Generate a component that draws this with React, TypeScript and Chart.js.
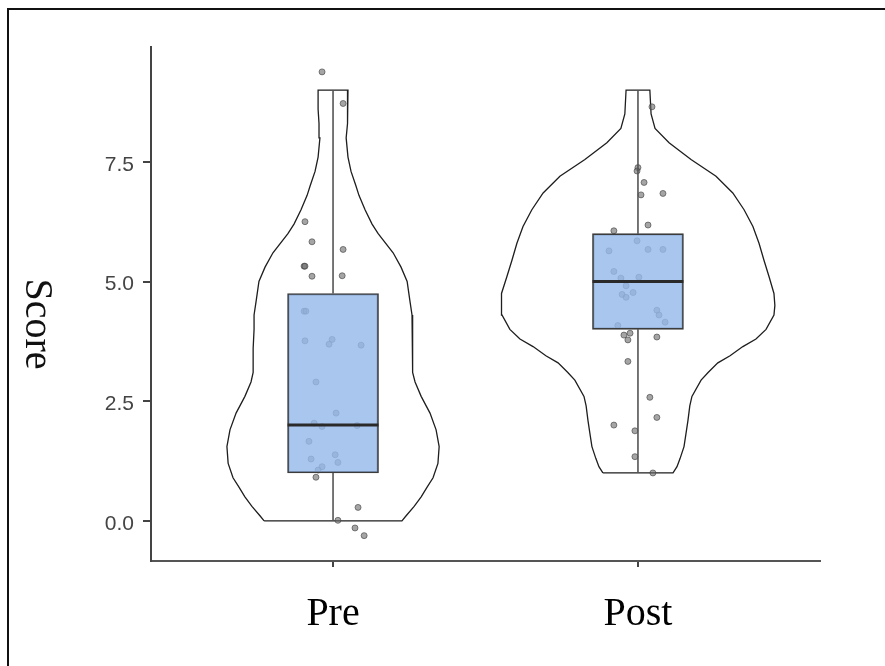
import { useEffect, useRef } from 'react';
import { Chart, registerables } from 'chart.js';

Chart.register(...registerables);

// ---- data ----
const categories = ['Pre', 'Post'];
const yTicks = [0, 2.5, 5, 7.5];

// violin outlines: score value and half-width (x-axis units)
const preViolinY = [0, 0.1, 0.3, 0.5, 0.7, 0.9, 1.2, 1.55, 1.9, 2.25, 2.6, 2.9, 3.1, 3.6, 4.0, 4.3, 4.6, 5.0, 5.3, 5.6, 6.0, 6.2, 6.5, 6.8, 7.0, 7.3, 7.6, 8.0, 8.3, 8.6, 9.0];
const preViolinHalfWidth = [0.226, 0.239, 0.266, 0.289, 0.308, 0.328, 0.344, 0.348, 0.338, 0.318, 0.289, 0.269, 0.262, 0.262, 0.259, 0.259, 0.252, 0.243, 0.223, 0.197, 0.148, 0.128, 0.105, 0.085, 0.075, 0.059, 0.049, 0.043, 0.046, 0.049, 0.049];
const postViolinY = [1.0, 1.13, 1.3, 1.55, 1.8, 2.1, 2.4, 2.6, 2.94, 3.1, 3.3, 3.45, 3.64, 3.8, 4.0, 4.3, 4.5, 4.75, 5.1, 5.45, 5.8, 6.15, 6.5, 6.85, 7.2, 7.55, 7.9, 8.2, 8.5, 9.0];
const postViolinHalfWidth = [0.115, 0.128, 0.138, 0.151, 0.157, 0.164, 0.170, 0.177, 0.207, 0.230, 0.262, 0.302, 0.344, 0.387, 0.420, 0.446, 0.449, 0.446, 0.430, 0.413, 0.397, 0.377, 0.348, 0.311, 0.256, 0.174, 0.102, 0.056, 0.043, 0.039];

// box plot statistics per category
const whiskerLow = [0, 1];
const boxQ1 = [1, 4];
const boxMedian = [2, 5];
const boxQ3 = [4.75, 6];
const whiskerHigh = [9, 9];

// jittered observations: values and horizontal jitter (x-axis units)
const preScores = [9.38, 8.72, 6.25, 5.83, 5.67, 5.32, 5.32, 5.11, 5.12, 4.38, 4.38, 3.76, 3.79, 3.69, 3.67, 2.90, 2.25, 2.04, 1.97, 1.99, 1.66, 1.29, 1.38, 1.22, 1.13, 1.06, 0.91, 0.28, 0.01, -0.15, -0.31];
const preJitter = [-0.036, 0.033, -0.092, -0.069, 0.033, -0.095, -0.092, -0.069, 0.030, -0.095, -0.089, -0.092, -0.003, -0.013, 0.092, -0.056, 0.010, -0.062, -0.036, 0.079, -0.079, -0.072, 0.007, 0.016, -0.036, -0.049, -0.056, 0.082, 0.016, 0.072, 0.102];
const postScores = [8.65, 7.38, 7.31, 7.07, 6.81, 6.84, 6.18, 6.06, 5.85, 5.64, 5.67, 5.67, 5.21, 5.07, 5.09, 4.91, 4.77, 4.73, 4.67, 4.40, 4.30, 4.15, 4.08, 3.88, 3.92, 3.78, 3.84, 3.33, 2.58, 2.16, 2.00, 1.88, 1.34, 1.00];
const postJitter = [0.046, 0, -0.003, 0.020, 0.010, 0.082, 0.033, -0.079, -0.003, -0.095, 0.033, 0.082, -0.079, -0.056, 0.003, -0.039, -0.016, -0.052, -0.039, 0.062, 0.069, 0.089, -0.066, -0.046, -0.026, -0.033, 0.062, -0.033, 0.039, 0.062, -0.079, -0.010, -0.010, 0.049];

const yAxisTitle = 'Score';

// ---- style constants ----
const BOX_HALF = 0.149;
const W = 885;
const H = 666;

function violinOutline(center: number, ys: number[], hws: number[]) {
  const left = ys.map((y, i) => ({ x: center - hws[i], y }));
  const right = ys.map((y, i) => ({ x: center + hws[i], y })).reverse();
  return [...left, ...right, left[0]];
}

export default function App() {
  const ref = useRef<HTMLCanvasElement | null>(null);

  useEffect(() => {
    if (!ref.current) return;
    const centers = categories.map((_, i) => i + 1);

    const whiskerData: any[] = [];
    const medianData: any[] = [];
    centers.forEach((c, i) => {
      whiskerData.push({ x: c, y: whiskerLow[i] }, { x: c, y: boxQ1[i] }, { x: c, y: null });
      whiskerData.push({ x: c, y: boxQ3[i] }, { x: c, y: whiskerHigh[i] }, { x: c, y: null });
      medianData.push({ x: c - BOX_HALF, y: boxMedian[i] }, { x: c + BOX_HALF, y: boxMedian[i] }, { x: c, y: null });
    });

    const pointStyle = {
      pointRadius: 3,
      pointBackgroundColor: 'rgba(105,105,105,0.6)',
      pointBorderColor: 'rgba(60,60,60,0.6)',
      pointBorderWidth: 1,
    };

    const titlePlugin = {
      id: 'rotTitle',
      afterDraw(chart: any) {
        const ctx = chart.ctx;
        ctx.save();
        ctx.translate(26, 324);
        ctx.rotate(Math.PI / 2);
        ctx.font = '40px "Liberation Serif", serif';
        ctx.fillStyle = '#111';
        ctx.textAlign = 'center';
        ctx.textBaseline = 'alphabetic';
        ctx.fillText(yAxisTitle, 0, 0);
        ctx.restore();
      },
    };

    const chart = new Chart(ref.current, {
      type: 'scatter',
      data: {
        datasets: [
          {
            type: 'line',
            data: violinOutline(centers[0], preViolinY, preViolinHalfWidth),
            borderColor: '#1e1e1e',
            borderWidth: 1.3,
            pointRadius: 0,
            fill: false,
            tension: 0,
            order: 10,
          } as any,
          {
            type: 'line',
            data: violinOutline(centers[1], postViolinY, postViolinHalfWidth),
            borderColor: '#1e1e1e',
            borderWidth: 1.3,
            pointRadius: 0,
            fill: false,
            tension: 0,
            order: 10,
          } as any,
          {
            type: 'scatter',
            data: preScores.map((y, i) => ({ x: centers[0] + preJitter[i], y })),
            ...pointStyle,
            order: 8,
          } as any,
          {
            type: 'scatter',
            data: postScores.map((y, i) => ({ x: centers[1] + postJitter[i], y })),
            ...pointStyle,
            order: 8,
          } as any,
          {
            type: 'line',
            data: whiskerData,
            borderColor: '#555',
            borderWidth: 1.6,
            pointRadius: 0,
            spanGaps: false,
            fill: false,
            order: 6,
          } as any,
          {
            type: 'bar',
            data: centers.map((c, i) => ({ x: c, y: [boxQ1[i], boxQ3[i]] })),
            backgroundColor: 'rgba(150,186,236,0.82)',
            borderColor: '#3c3c3c',
            borderWidth: 1.6,
            borderSkipped: false,
            barThickness: 91,
            order: 4,
          } as any,
          {
            type: 'line',
            data: medianData,
            borderColor: '#2a2a2a',
            borderWidth: 3,
            pointRadius: 0,
            spanGaps: false,
            fill: false,
            order: 2,
          } as any,
        ],
      },
      options: {
        responsive: false,
        animation: false,
        events: [],
        layout: { padding: { left: 0, right: W - 820, top: 47, bottom: 0 } },
        plugins: { legend: { display: false }, tooltip: { enabled: false } },
        scales: {
          x: {
            type: 'linear',
            min: 0.403,
            max: 2.597,
            offset: false,
            afterFit(scale: any) {
              scale.height = H - 561;
            },
            afterBuildTicks(scale: any) {
              scale.ticks = centers.map((v) => ({ value: v }));
            },
            ticks: {
              callback: (v: any) => categories[Math.round(Number(v)) - 1] ?? '',
              font: { family: '"Liberation Serif", serif', size: 40 },
              color: '#000',
              padding: 23,
              maxRotation: 0,
              autoSkip: false,
            },
            grid: { offset: false, drawOnChartArea: false, drawTicks: true, tickLength: 6, color: '#444', lineWidth: 2 },
            border: { display: true, color: '#555', width: 2 },
          },
          y: {
            type: 'linear',
            min: -0.84,
            max: 9.9,
            afterFit(scale: any) {
              scale.width = 151;
            },
            afterBuildTicks(scale: any) {
              scale.ticks = yTicks.map((v) => ({ value: v }));
            },
            ticks: {
              callback: (v: any) => Number(v).toFixed(1),
              font: { family: '"Liberation Sans", Arial, sans-serif', size: 21 },
              color: '#444',
              padding: 9,
              labelOffset: 3,
            },
            grid: { drawOnChartArea: false, drawTicks: true, tickLength: 8, color: '#444', lineWidth: 2 },
            border: { display: true, color: '#444', width: 2 },
          },
        },
      } as any,
      plugins: [titlePlugin],
    });

    return () => chart.destroy();
  }, []);

  return (
    <div>
      <div
        style={{
          position: 'fixed',
          left: 7,
          top: 8,
          width: 950,
          height: 750,
          border: '2px solid #111',
          boxSizing: 'border-box',
          background: '#fff',
        }}
      />
      <canvas
        ref={ref}
        width={W}
        height={H}
        style={{ position: 'fixed', left: 0, top: 0, width: W, height: H, display: 'block' }}
      />
    </div>
  );
}
